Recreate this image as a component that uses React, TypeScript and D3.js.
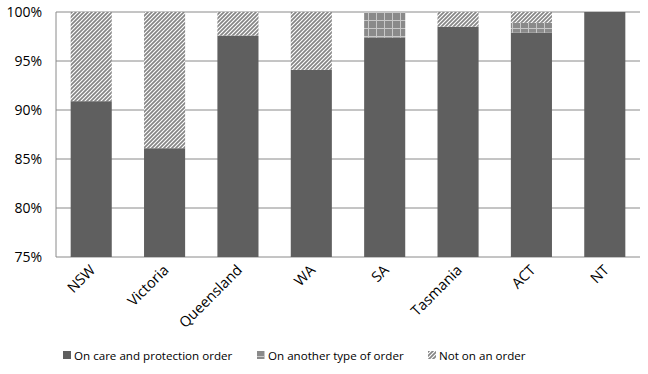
import * as d3 from 'd3';
import { useEffect, useRef } from 'react';

const states = ['NSW', 'Victoria', 'Queensland', 'WA', 'SA', 'Tasmania', 'ACT', 'NT'];
const careProtection = [90.9, 86.1, 97.6, 94.1, 97.4, 98.5, 97.9, 100];
const anotherOrder = [0, 0, 0, 0, 2.6, 0, 1.0, 0];
const notOnOrder = [9.1, 13.9, 2.4, 5.9, 0, 1.5, 1.1, 0];
const seriesNames = ['On care and protection order', 'On another type of order', 'Not on an order'];
const yTicks = [75, 80, 85, 90, 95, 100];

export default function App() {
  const ref = useRef<SVGSVGElement>(null);

  useEffect(() => {
    const width = 648;
    const height = 374;
    const margin = { top: 12, right: 8, bottom: 117, left: 56 };
    const innerW = width - margin.left - margin.right;
    const innerH = height - margin.top - margin.bottom;

    const svg = d3.select(ref.current);
    svg.selectAll('*').remove();

    const defs = svg.append('defs');
    // diagonal hatch for "not on an order"
    const hatch = defs.append('pattern')
      .attr('id', 'hatch')
      .attr('patternUnits', 'userSpaceOnUse')
      .attr('width', 4).attr('height', 4);
    hatch.append('rect').attr('width', 4).attr('height', 4).attr('fill', '#fff');
    hatch.append('path')
      .attr('d', 'M-1,1 l2,-2 M0,4 l4,-4 M3,5 l2,-2')
      .attr('stroke', '#858585').attr('stroke-width', 1.7);
    // small grid for "another type of order"
    const grid = defs.append('pattern')
      .attr('id', 'grid')
      .attr('patternUnits', 'userSpaceOnUse')
      .attr('width', 8).attr('height', 8);
    grid.append('rect').attr('width', 8).attr('height', 8).attr('fill', '#8a8a8a');
    grid.append('path').attr('d', 'M0,0.5 H8 M0.5,0 V8')
      .attr('stroke', '#c8c8c8').attr('stroke-width', 1);

    const x = d3.scaleBand().domain(states).range([0, innerW]).paddingInner(0.44).paddingOuter(0.2);
    const y = d3.scaleLinear().domain([75, 100]).range([innerH, 0]);

    const g = svg.append('g').attr('transform', `translate(${margin.left},${margin.top})`);

    g.selectAll('line.grid')
      .data(yTicks)
      .enter()
      .append('line')
      .attr('x1', 0).attr('x2', innerW)
      .attr('y1', d => y(d)).attr('y2', d => y(d))
      .attr('stroke', '#8a8a8a').attr('stroke-width', 1);

    g.append('line')
      .attr('x1', 0).attr('x2', 0).attr('y1', 0).attr('y2', innerH)
      .attr('stroke', '#8a8a8a');

    g.selectAll('text.ytick')
      .data(yTicks)
      .enter()
      .append('text')
      .attr('x', -14)
      .attr('y', d => y(d) + 5)
      .attr('text-anchor', 'end')
      .style('font-family', 'Open Sans, sans-serif')
      .style('font-size', '14px')
      .attr('fill', '#000')
      .text(d => `${d}%`);

    const rows = states.map((s, i) => ({ state: s, vals: [careProtection[i], anotherOrder[i], notOnOrder[i]] }));
    const fills = ['#5f5f5f', 'url(#grid)', 'url(#hatch)'];

    rows.forEach(r => {
      let base = 0;
      r.vals.forEach((v, k) => {
        const lo = base;
        const hi = Math.min(100, base + v);
        base += v;
        if (v <= 0) return;
        const yTop = y(hi);
        const yBot = y(Math.max(75, lo));
        if (yBot <= yTop) return;
        g.append('rect')
          .attr('x', x(r.state)!)
          .attr('y', yTop)
          .attr('width', x.bandwidth())
          .attr('height', yBot - yTop)
          .attr('fill', fills[k]);
      });
    });

    g.selectAll('text.xlab')
      .data(states)
      .enter()
      .append('text')
      .attr('transform', d => `translate(${x(d)! + x.bandwidth() / 2 + 5},${innerH + 14}) rotate(-45)`)
      .attr('text-anchor', 'end')
      .style('font-family', 'Open Sans, sans-serif')
      .style('font-size', '14.5px')
      .text(d => d);

    const legendX = [63, 257, 428];
    const lg = svg.append('g').attr('transform', 'translate(0,356)');
    seriesNames.forEach((name, i) => {
      lg.append('rect')
        .attr('x', legendX[i]).attr('y', -5)
        .attr('width', 8).attr('height', 8)
        .attr('fill', fills[i]);
      lg.append('text')
        .attr('x', legendX[i] + 11).attr('y', 4)
        .style('font-family', 'Open Sans, sans-serif')
        .style('font-size', '11.6px')
        .text(name);
    });
  }, []);

  return (
    <svg ref={ref} width={648} height={374} style={{ position: 'absolute', left: 0, top: 0, background: '#fff' }} />
  );
}
